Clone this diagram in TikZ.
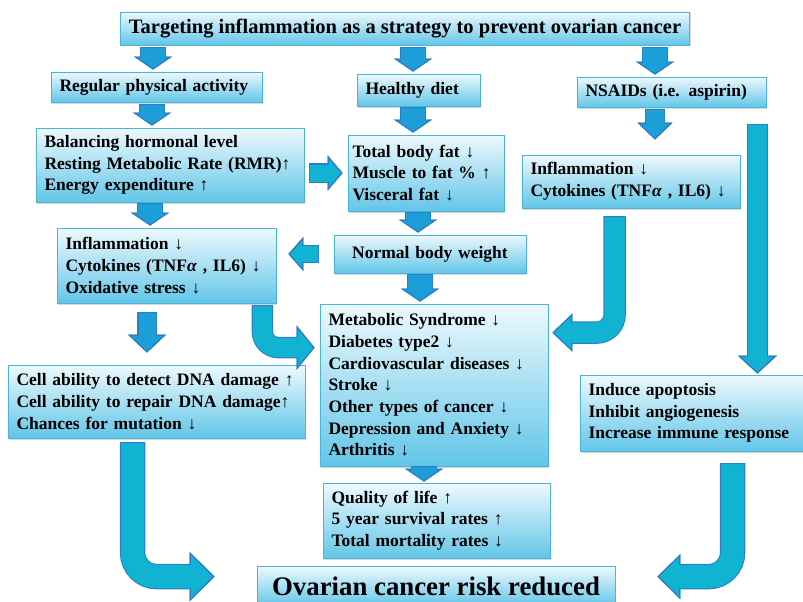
\documentclass[tikz,border=0pt]{standalone}
\usepackage{fontspec}
\setmainfont{Liberation Serif}
\usetikzlibrary {arrows.meta,
                 positioning,
                 calc,
                 shadows}
\definecolor{boxtop}{HTML}{EEF9FD}
\definecolor{boxbot}{HTML}{62C6E8}
\definecolor{boxline}{HTML}{4AB5DA}
\definecolor{arrline}{HTML}{2C7EC6}
\definecolor{dnfill}{HTML}{1C9FD8}
\definecolor{bigfill}{HTML}{10B3D1}
\newcommand{\bxfont}{\fontsize{17.5}{21.7}\selectfont\bfseries}
\tikzset{
        box/.style={draw=boxline, line width=0.8pt, top color=boxtop,
                    bottom color=boxbot, inner xsep=8.5pt, inner ysep=1pt,
                    align=left, font=\bxfont,
                    drop shadow={shadow xshift=1.2pt, shadow yshift=-1.5pt,
                                 opacity=0.3}},
        fatarrow/.style n args={4}{draw=#4, line width=#1,
                    -{Triangle[length=#3, width=#2, line width=1.2pt,
                               color=arrline, fill=#4]},
                    preaction={draw=arrline, line width=#1+2.4pt,
                               shorten <=-1.2pt},
                    postaction={draw=#4, line width=#1, -,
                                shorten >=#3-3pt}},
        dnarrow/.style={fatarrow={24pt}{38pt}{13pt}{dnfill}},
}

\begin{document}
\begin{tikzpicture}[x=1pt, y=-1pt]
    \useasboundingbox (0,0) rectangle (803,602);

    \node[box, minimum width=566pt, minimum height=33pt, align=center,
          font=\fontsize{20.5}{23}\selectfont\bfseries] (top) at (405,28.5)
          {Targeting inflammation as a strategy to prevent ovarian cancer};
    \node[box, text width=194pt, minimum height=30pt] (reg) at (156.5,87)
          {Regular physical activity};
    \node[box, text width=106pt, minimum height=32pt] (hea) at (418.5,90)
          {Healthy diet};
    \node[box, text width=172pt, minimum height=30pt] (nsd) at (671.5,92)
          {NSAIDs (i.e. aspirin)};
    \node[box, text width=251pt, minimum height=74pt] (bal) at (170,165)
          {Balancing hormonal level\\
           Resting Metabolic Rate (RMR)↑\\
           Energy expenditure ↑};
    \node[box, text width=147pt, inner xsep=4.5pt, minimum height=76pt] (tot)
          at (426,173)
          {Total body fat ↓\\ Muscle to fat \% ↑\\ Visceral fat ↓};
    \node[box, text width=201pt, minimum height=53pt] (ninf) at (631,181.5)
          {Inflammation ↓\\ Cytokines (TNF\textit{α} , IL6) ↓};
    \node[box, text width=175pt, minimum height=38pt, align=center] (nor)
          at (430,254) {Normal body weight};
    \node[box, text width=202pt, minimum height=75pt] (inf) at (166.5,265.5)
          {Inflammation ↓\\ Cytokines (TNF\textit{α} , IL6) ↓\\
           Oxidative stress ↓};
    \node[box, text width=211pt, minimum height=162pt] (met) at (434,385)
          {Metabolic Syndrome ↓\\ Diabetes type2 ↓\\
           Cardiovascular diseases ↓\\ Stroke ↓\\
           Other types of cancer ↓\\ Depression and Anxiety ↓\\
           Arthritis ↓};
    \node[box, text width=280pt, minimum height=73pt] (cel) at (156.5,401.5)
          {Cell ability to detect DNA damage ↑\\
           Cell ability to repair DNA damage↑\\
           Chances for mutation ↓};
    \node[box, text width=207pt, minimum height=76pt] (ind) at (692,413)
          {Induce apoptosis\\ Inhibit angiogenesis\\
           Increase immune response};
    \node[box, text width=210pt, minimum height=75pt] (qua) at (436.5,520.5)
          {Quality of life ↑\\ 5 year survival rates ↑\\
           Total mortality rates ↓};
    \node[box, minimum width=358pt, minimum height=40pt, align=center,
          font=\fontsize{26.8}{30}\selectfont\bfseries] (ovr) at (436,586)
          {Ovarian cancer risk reduced};

    % short arrows downwards
    \draw[dnarrow] ($(top.south -| reg.north)+(-3.5,3)$) -- ($(reg.north)+(-3.5,-2)$);
    \draw[dnarrow] ($(top.south -| hea.north)+(-5.5,3)$) -- ($(hea.north)+(-5.5,-2)$);
    \draw[dnarrow] ($(top.south -| nsd.north)+(-16.5,3)$) -- ($(nsd.north)+(-16.5,-2)$);
    \draw[dnarrow] ($(reg.south -| bal.north)+(-18,3)$) -- ($(bal.north)+(-18,-2)$);
    \draw[dnarrow] ($(hea.south -| tot.north)+(-13,2)$) -- ($(tot.north)+(-13,-2)$);
    \draw[dnarrow] ($(bal.south -| inf.north)+(-16.5,2)$) -- ($(inf.north)+(-16.5,-2)$);
    \draw[dnarrow] ($(tot.south -| nor.north)+(-12,2)$) -- ($(nor.north)+(-12,-2)$);
    \draw[dnarrow] ($(nor.south -| met.north)+(-14,2)$) -- ($(met.north)+(-14,-2)$);
    \draw[dnarrow] ($(met.south -| qua.north)+(-12.5,1)$) -- ($(qua.north)+(-12.5,-1)$);
    \draw[fatarrow={18pt}{35pt}{17pt}{dnfill}]
          ($(nsd.south -| ninf.north)+(24,3)$) -- ($(ninf.north)+(24,-15)$);
    \draw[fatarrow={17pt}{38pt}{18pt}{dnfill}]
          ($(inf.south -| cel.north)+(-9.5,10)$) -- ($(cel.north)+(-9.5,-12)$);

    % sideways arrows
    \draw[fatarrow={17pt}{35pt}{15pt}{bigfill}]
          ($(bal.east |- tot.west)+(6,0)$) -- ($(tot.west)+(-5,0)$);
    \draw[fatarrow={16pt}{34pt}{15pt}{bigfill}]
          ($(nor.west)+(-16,0)$) -- ($(inf.east |- nor.west)+(12,0)$);

    % long and bent arrows
    \draw[fatarrow={19pt}{39pt}{18pt}{bigfill}]
          ($(nsd.south east)+(-9,18)$) -- ($(nsd.south east |- ind.north)+(-9,-1)$);
    \draw[fatarrow={19pt}{44pt}{18pt}{bigfill}, rounded corners=16pt]
          ($(inf.south east)+(-14,3)$) |- ($(met.north west)+(-5,44)$);
    \draw[fatarrow={20pt}{38pt}{20pt}{bigfill}, rounded corners=18pt]
          ($(ninf.south west)+(93,9)$) |- ($(met.north east)+(4,29)$);
    \draw[fatarrow={23pt}{49pt}{25pt}{bigfill}, rounded corners=24pt]
          ($(cel.south west)+(125,5)$) |- ($(ovr.north west)+(-42,11)$);
    \draw[fatarrow={23pt}{45pt}{23pt}{bigfill}, rounded corners=24pt]
          ($(ind.south west)+(153,13)$) |- ($(ovr.north east)+(42,11)$);
\end{tikzpicture}
\end{document}
